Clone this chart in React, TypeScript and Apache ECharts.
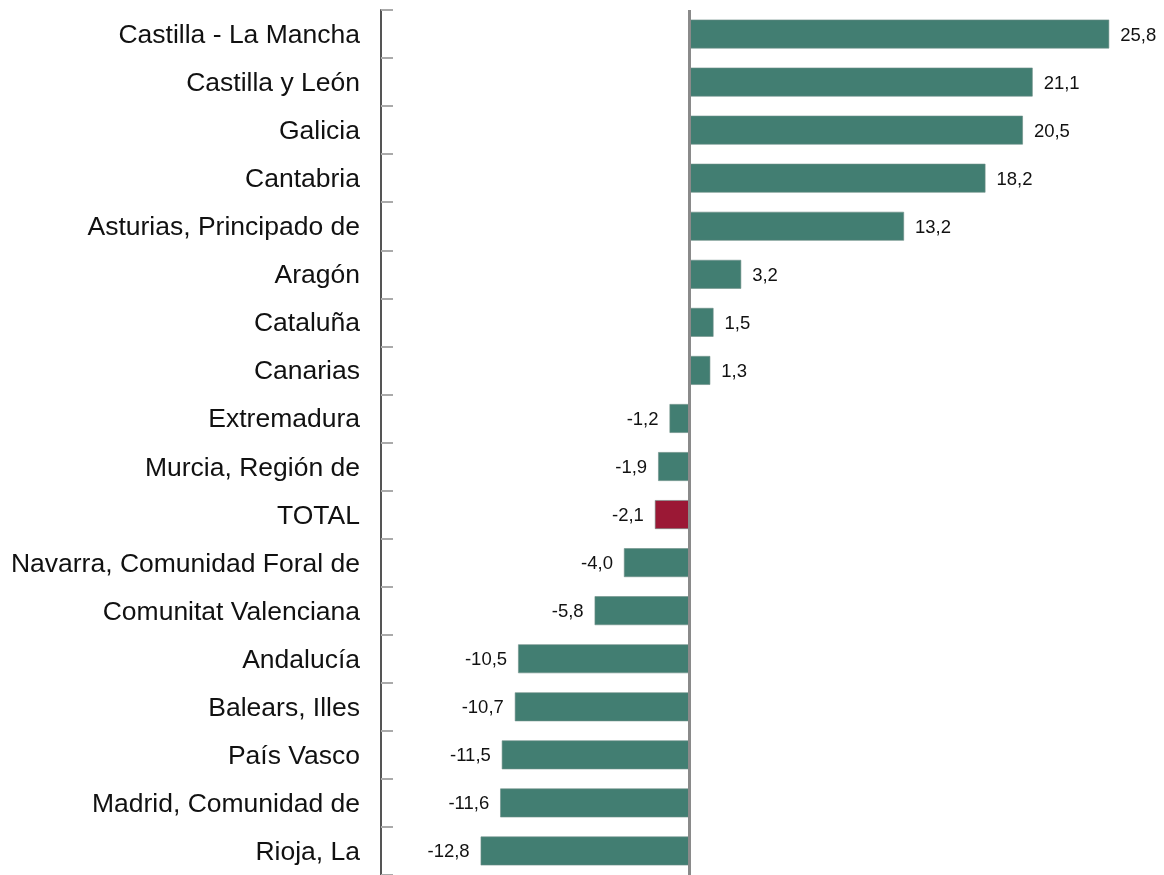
import React, { useEffect, useRef } from "react";
import * as echarts from "echarts";

const categories = [
  "Castilla - La Mancha",
  "Castilla y León",
  "Galicia",
  "Cantabria",
  "Asturias, Principado de",
  "Aragón",
  "Cataluña",
  "Canarias",
  "Extremadura",
  "Murcia, Región de",
  "TOTAL",
  "Navarra, Comunidad Foral de",
  "Comunitat Valenciana",
  "Andalucía",
  "Balears, Illes",
  "País Vasco",
  "Madrid, Comunidad de",
  "Rioja, La",
];

const values = [25.8, 21.1, 20.5, 18.2, 13.2, 3.2, 1.5, 1.3, -1.2, -1.9, -2.1, -4.0, -5.8, -10.5, -10.7, -11.5, -11.6, -12.8];

const highlight = "TOTAL";
const FONT = "'Liberation Sans', Arial, sans-serif";

export default function App() {
  const ref = useRef<HTMLDivElement>(null);
  useEffect(() => {
    document.body.style.margin = "0";
    document.body.style.overflow = "hidden";
    const chart = echarts.init(ref.current!, undefined, { renderer: "svg" });
    chart.setOption({
      animation: false,
      grid: { left: 381, right: 19, top: 10, bottom: -4, containLabel: false },
      xAxis: {
        type: "value",
        min: -18.92,
        max: 28,
        show: false,
        splitLine: { show: false },
      },
      yAxis: {
        type: "category",
        data: categories,
        inverse: true,
        axisLine: { show: true, onZero: false, lineStyle: { color: "#555", width: 2 } },
        axisTick: { show: true, inside: true, length: 12, lineStyle: { color: "#aaa", width: 2 } },
        axisLabel: {
          fontFamily: FONT,
          fontSize: 26.5,
          color: "#111",
          margin: 21,
          padding: [0, 0, 3, 0],
        },
      },
      series: [
        {
          type: "bar",
          barWidth: "60%",
          data: values.map((v, i) => ({
            value: v,
            itemStyle: { color: categories[i] === highlight ? "#9B1835" : "#427E72" },
            label: {
              show: true,
              position: v >= 0 ? "right" : "left",
              distance: 11,
              formatter: () => v.toFixed(1).replace(".", ","),
              fontFamily: FONT,
              fontSize: 18.5,
              color: "#111",
            },
          })),
          itemStyle: { borderColor: "#6f8f88", borderWidth: 0.6 },
          markLine: {
            silent: true,
            symbol: "none",
            label: { show: false },
            lineStyle: { color: "#8a8a8a", width: 3, type: "solid" },
            data: [{ xAxis: 0 }],
          },
        },
      ],
    });
    return () => chart.dispose();
  }, []);
  return <div ref={ref} style={{ position: "fixed", left: 0, top: 0, width: 1164, height: 875 }} />;
}
